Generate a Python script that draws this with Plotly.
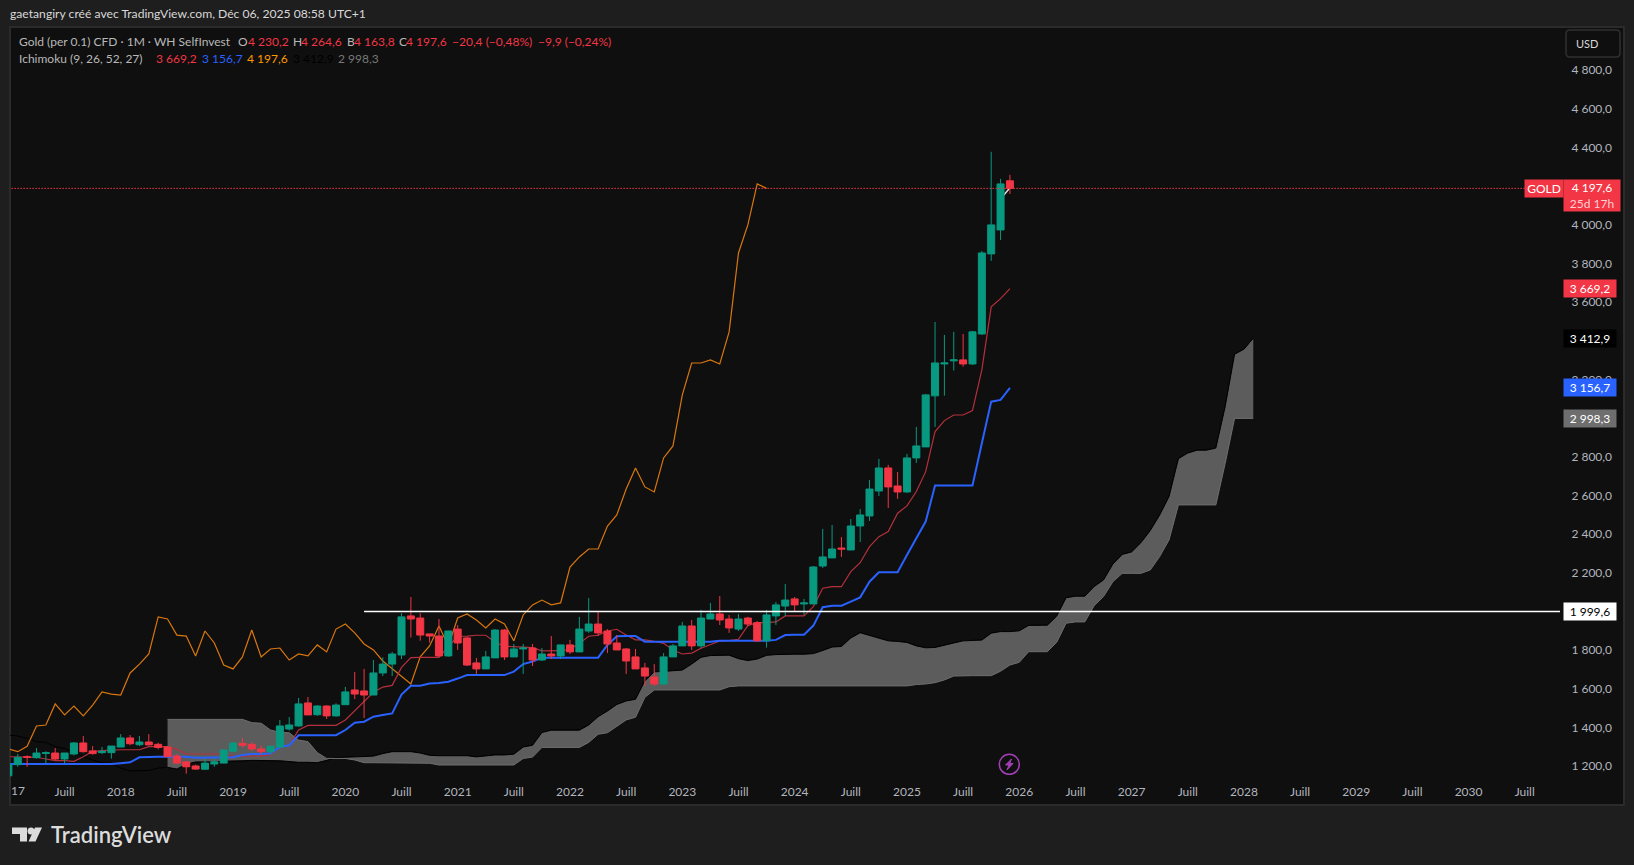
import plotly.graph_objects as go

# ------------------------------------------------------------------ data
years = list(range(2017, 2031))
months = [f"{y}-{m:02d}" for y in years for m in range(1, 13)]

opens = [1150,1208,1249,1244,1266,1268,1237,1263,1320,1279,1270,1270,
         1299,1346,1311,1325,1313,1299,1253,1222,1201,1184,1211,1216,
         1277,1318,1313,1289,1275,1299,1392,1408,1527,1466,1511,1460,
         1518,1594,1589,1568,1682,1728,1775,1977,1966,1884,1873,1770,
         1909,1863,1734,1703,1760,1904,1765,1806,1811,1749,1780,1770,
         1827,1791,1899,1935,1899,1837,1806,1765,1708,1661,1625,1765,
         1822,1925,1822,1961,1987,1961,1909,1966,1942,1848,1977,2028,
         2065,2039,2039,2235,2277,2328,2318,2442,2494,2623,2742,2649,
         2618,2794,2851,3115,3280,3296,3301,3280,3435,3849,3973,4227]
highs = [1220,1263,1256,1294,1277,1294,1268,1325,1356,1304,1299,1304,
         1366,1361,1356,1366,1322,1304,1263,1227,1208,1240,1240,1284,
         1323,1346,1325,1308,1303,1439,1454,1553,1558,1516,1515,1525,
         1610,1687,1703,1749,1763,1791,1991,2075,1991,1884,1961,1901,
         1930,1870,1760,1796,1909,1909,1832,1832,1832,1811,1873,1827,
         1853,1972,2070,1997,1909,1878,1811,1806,1734,1728,1785,1832,
         1946,1956,2008,2044,2080,1982,1987,1972,1951,2008,2049,2142,
         2075,2065,2235,2427,2447,2385,2478,2530,2680,2789,2758,2721,
         2815,2954,3125,3497,3430,3446,3435,3451,3864,4377,4237,4258]
lows = [1146,1197,1197,1239,1215,1232,1215,1256,1270,1260,1263,1239,
        1299,1308,1304,1308,1287,1247,1211,1161,1182,1180,1197,1216,
        1275,1296,1278,1261,1261,1297,1384,1404,1465,1460,1444,1456,
        1518,1547,1449,1568,1666,1666,1754,1865,1849,1839,1766,1766,
        1801,1718,1677,1703,1760,1749,1765,1677,1718,1744,1754,1754,
        1780,1791,1889,1873,1785,1801,1677,1703,1615,1615,1620,1765,
        1822,1801,1810,1961,1930,1889,1899,1925,1844,1813,1930,1977,
        1997,1982,2039,2225,2277,2282,2318,2359,2468,2597,2535,2582,
        2613,2768,2851,2954,3116,3246,3266,3275,3430,3813,3921,4159]
closes = [1209,1246,1246,1268,1270,1237,1268,1320,1275,1265,1277,1304,
          1346,1316,1325,1310,1297,1249,1216,1197,1185,1216,1223,1284,
          1320,1308,1289,1275,1303,1408,1413,1522,1465,1511,1460,1516,
          1584,1573,1568,1682,1728,1780,1972,1961,1878,1873,1770,1899,
          1837,1723,1703,1765,1904,1765,1806,1811,1749,1780,1770,1827,
          1791,1909,1935,1889,1832,1801,1744,1703,1666,1625,1765,1822,
          1925,1822,1966,1987,1956,1915,1961,1935,1848,1982,2034,2059,
          2034,2044,2230,2282,2323,2323,2442,2499,2633,2742,2644,2618,
          2794,2856,3120,3285,3285,3301,3280,3446,3854,3999,4211,4188]

tenkan = [1249,1249,1249,1246,1237,1229,1229,1225,1249,1277,1280,1284,
          1285,1285,1285,1301,1301,1301,1287,1263,1263,1263,1263,1263,
          1251,1251,1253,1253,1258,1299,1308,1387,1411,1411,1411,1411,
          1439,1487,1539,1582,1609,1618,1711,1761,1763,1763,1763,1818,
          1872,1873,1877,1877,1841,1820,1818,1818,1813,1796,1796,1797,
          1804,1835,1872,1877,1899,1908,1878,1853,1853,1846,1835,1801,
          1780,1785,1810,1830,1847,1849,1856,1927,1942,1942,1946,1977,
          1977,1977,2025,2120,2128,2128,2206,2252,2335,2387,2413,2508,
          2546,2620,2723,2930,2987,3016,3016,3039,3249,3575,3618,3669.2]
kijun = [1211,1211,1211,1211,1211,1211,1211,1211,1211,1211,1211,1211,
         1215,1220,1246,1249,1249,1249,1249,1249,1244,1244,1244,1244,
         1246,1258,1263,1263,1266,1299,1308,1360,1360,1360,1360,1360,
         1387,1425,1430,1456,1465,1473,1570,1616,1616,1627,1630,1637,
         1653,1671,1671,1671,1671,1671,1689,1728,1741,1761,1761,1761,
         1761,1761,1761,1761,1827,1872,1873,1873,1844,1844,1844,1844,
         1844,1844,1844,1844,1849,1849,1849,1849,1849,1849,1853,1878,
         1880,1880,1927,2022,2030,2030,2051,2073,2154,2203,2203,2203,
         2292,2378,2465,2651,2651,2651,2651,2651,2870,3085,3094,3156.7]
# drawn from 2017-01, it stops 26 bars before the last candle
lagging = [1289,1275,1303,1408,1413,1522,1465,1511,1460,1516,
           1584,1573,1568,1682,1728,1780,1972,1961,1878,1873,1770,1899,
           1837,1723,1703,1765,1904,1765,1806,1811,1749,1780,1770,1827,
           1791,1909,1935,1889,1832,1801,1744,1703,1666,1625,1765,1822,
           1925,1822,1966,1987,1956,1915,1961,1935,1848,1982,2034,2059,
           2034,2044,2230,2282,2323,2323,2442,2499,2633,2742,2644,2618,
           2794,2856,3120,3285,3285,3301,3280,3446,3854,3999,4211,4188]
# leading span A, 2017-01 to 2028-02
span_a = [1361,1356,1344,1327,1323,1301,1292,1270,1249,1232,1218,1215,
          1190,1175,1175,1178,1190,1194,1185,1210,1222,1222,1222,1226,
          1226,1228,1230,1230,1230,1228,1224,1220,1220,1218,1230,1244,
          1246,1248,1250,1252,1265,1275,1275,1275,1268,1256,1254,1254,
          1254,1254,1248,1254,1258,1258,1262,1299,1308,1374,1386,1386,
          1386,1386,1413,1456,1485,1519,1537,1546,1641,1688,1690,1695,
          1697,1728,1763,1772,1774,1774,1756,1746,1754,1773,1777,1779,
          1779,1779,1782,1798,1816,1819,1863,1890,1875,1863,1848,1845,
          1840,1822,1812,1814,1827,1837,1848,1849,1852,1888,1896,1896,
          1900,1928,1929,1929,1976,2071,2079,2079,2129,2163,2245,2295,
          2308,2356,2419,2499,2594,2790,2819,2834,2834,2845,3060,3330,
          3356,3412.9]
# leading span B, 2018-06 to 2028-02
span_b = [1442,1442,1442,1442,1442,1442,1442,1442,1442,
          1425,1422,1387,1375,1373,1335,1327,1270,1240,1240,1240,1232,
          1218,1218,1218,1215,1215,1215,1215,1215,1206,1206,1206,1206,
          1206,1206,1206,1206,1206,1240,1247,1297,1297,1297,1297,1297,
          1323,1365,1373,1404,1439,1453,1556,1594,1594,1594,1594,1594,
          1594,1594,1594,1611,1615,1615,1615,1615,1615,1615,1615,1615,
          1615,1615,1615,1615,1615,1615,1615,1615,1615,1615,1615,1622,
          1625,1632,1646,1666,1668,1668,1668,1668,1691,1723,1737,1792,
          1792,1792,1841,1939,1946,1946,2030,2077,2154,2197,2197,2197,
          2215,2284,2370,2551,2551,2551,2551,2551,2766,2998.3,2998.3,2998.3]

ray_months = ["2020-03", "2030-12"]
ray_values = [1999.6, 1999.6]
price_months = ["2017-01", "2030-12"]
price_values = [4188, 4188]
short_months = ["2025-11", "2025-12"]
short_values = [4133, 4191]

price_ticks = [4800,4600,4400,4200,4000,3800,3600,3400,3200,3000,2800,2600,2400,2200,2000,1800,1600,1400,1200]
price_labels = [f"{p//1000} {p%1000:03d},0" for p in price_ticks]
time_ticks = [f"{y}-{m}" for y in years for m in ("01", "07")][1:]
time_labels = [("Juill" if t.endswith("07") else t[:4]) for t in time_ticks]

# ------------------------------------------------------------------ style
W, H = 1634, 865
L, R, T, B = 10, 1560, 27, 777
BG, PANEL, BORDER = "#1e1e1e", "#0f0f0f", "#2b2b2b"
UP, DOWN = "#089981", "#F23645"
FONT = "Lato"
AXIS_TXT = "#b2b5be"

def px(x): return (x - L) / (R - L)
def py(y): return (B - y) / (B - T)

XR = [0.17, 165.77]
YR = [1144, 5022.4]

fig = go.Figure()

cx = months[17:17 + len(span_b)]
fig.add_trace(go.Scatter(x=months[:len(span_a)], y=span_a, mode="lines", line=dict(color="#000000", width=1), hoverinfo="skip"))
fig.add_trace(go.Scatter(x=cx, y=span_a[17:], mode="lines", line=dict(color="#000000", width=1), hoverinfo="skip"))
fig.add_trace(go.Scatter(x=cx, y=span_b, mode="lines", line=dict(color="#6e6e6e", width=1),
                         fill="tonexty", fillcolor="#5c5c5c", hoverinfo="skip"))
fig.add_trace(go.Scatter(x=months[:len(lagging)], y=lagging, mode="lines", line=dict(color="#d9770f", width=1.2), hoverinfo="skip"))
fig.add_trace(go.Scatter(x=months[:len(tenkan)], y=tenkan, mode="lines", line=dict(color="#b5303c", width=1.2), hoverinfo="skip"))
fig.add_trace(go.Scatter(x=months[:len(kijun)], y=kijun, mode="lines", line=dict(color="#2962FF", width=2), hoverinfo="skip"))
fig.add_trace(go.Scatter(x=short_months, y=short_values, mode="lines", line=dict(color="#e0e0e0", width=1.5), hoverinfo="skip"))

fig.add_trace(go.Candlestick(x=months[:len(closes)], open=opens, high=highs, low=lows, close=closes,
                             xaxis="x2", yaxis="y2", whiskerwidth=0, hoverinfo="skip",
                             increasing=dict(line=dict(color=UP, width=1), fillcolor=UP),
                             decreasing=dict(line=dict(color=DOWN, width=1), fillcolor=DOWN)))
fig.add_trace(go.Scatter(x=ray_months, y=ray_values, xaxis="x2", yaxis="y2", mode="lines",
                         line=dict(color="#ffffff", width=1.5), hoverinfo="skip"))
fig.add_trace(go.Scatter(x=price_months, y=price_values, xaxis="x2", yaxis="y2", mode="lines",
                         line=dict(color=DOWN, width=1, dash="1.5px,1.5px"), hoverinfo="skip"))

shapes = [
    dict(type="rect", xref="paper", yref="paper", layer="below", x0=px(10), x1=px(1624), y0=py(805), y1=py(27),
         fillcolor=PANEL, line=dict(color=BORDER, width=2)),
    dict(type="path", xref="paper", yref="paper", layer="above",
         path=" ".join(["M", f"{px(1570)},{py(30)}", "L", f"{px(1616)},{py(30)}",
                        "Q", f"{px(1620)},{py(30)}", f"{px(1620)},{py(34)}", "L", f"{px(1620)},{py(53)}",
                        "Q", f"{px(1620)},{py(57)}", f"{px(1616)},{py(57)}", "L", f"{px(1570)},{py(57)}",
                        "Q", f"{px(1566)},{py(57)}", f"{px(1566)},{py(53)}", "L", f"{px(1566)},{py(34)}",
                        "Q", f"{px(1566)},{py(30)}", f"{px(1570)},{py(30)}", "Z"]),
         line=dict(color="#303030", width=1.5)),
    # TradingView mark
    dict(type="path", xref="paper", yref="paper", layer="above", fillcolor="#dcdcdc", line=dict(width=0),
         path=f"M {px(12)},{py(827.5)} L {px(27)},{py(827.5)} L {px(27)},{py(841.5)} L {px(20)},{py(841.5)} L {px(20)},{py(834)} L {px(12)},{py(834)} Z"),
    dict(type="circle", xref="paper", yref="paper", layer="above", fillcolor="#dcdcdc", line=dict(width=0),
         x0=px(27.5), x1=px(34.5), y0=py(834.5), y1=py(827.5)),
    dict(type="path", xref="paper", yref="paper", layer="above", fillcolor="#dcdcdc", line=dict(width=0),
         path=f"M {px(35)},{py(827.5)} L {px(42)},{py(827.5)} L {px(35.5)},{py(841.5)} L {px(28.5)},{py(841.5)} Z"),
    # purple lightning button
    dict(type="circle", xref="paper", yref="paper", layer="above", line=dict(color="#a23fb5", width=1.5),
         x0=px(999.3), x1=px(1019.3), y0=py(774.3), y1=py(754.3)),
    dict(type="path", xref="paper", yref="paper", layer="above", fillcolor="#a23fb5", line=dict(color="#a23fb5", width=1),
         path=f"M {px(1011.5)},{py(759)} L {px(1005.5)},{py(765)} L {px(1009)},{py(765)} L {px(1007)},{py(770)} L {px(1013)},{py(763.5)} L {px(1009.7)},{py(763.5)} Z"),
]

ann = []
def txt(x, y, s, color, size=12, anchor="left", weight=None, fam=FONT):
    ann.append(dict(text=s, x=px(x), y=py(y), xref="paper", yref="paper", xanchor=anchor, yanchor="middle",
                    showarrow=False, align="left", font=dict(family=fam, size=size, color=color, weight=weight)))

txt(8, 14, "gaetangiry créé avec TradingView.com, Déc 06, 2025 08:58 UTC+1", "#d8d8d8", 12.15)
legend1 = [(17, "Gold (per 0.1) CFD · 1M · WH SelfInvest", "#b8b8b8"),
           (236.5, "O", "#b8b8b8"), (246, "4 230,2", DOWN), (291, "H", "#b8b8b8"), (299, "4 264,6", DOWN),
           (345, "B", "#b8b8b8"), (352, "4 163,8", DOWN), (397, "C", "#b8b8b8"), (404, "4 197,6", DOWN),
           (450, "−20,4 (−0,48%)", DOWN), (536, "−9,9 (−0,24%)", DOWN)]
legend2 = [(17, "Ichimoku (9, 26, 52, 27)", "#b8b8b8"), (154, "3 669,2", DOWN), (200, "3 156,7", "#2962FF"),
           (245, "4 197,6", "#FF9800"), (291, "3 412,9", "#000000"), (336, "2 998,3", "#787878")]
for x, s, c in legend1: txt(x, 41.5, s, c, 12)
for x, s, c in legend2: txt(x, 59, s, c, 12)
txt(1574, 43.5, "USD", "#d8d8d8", 11)
txt(9, 790, "17", AXIS_TXT, 12)
txt(48.5, 834.5, "TradingView", "#dcdcdc", 22, weight=600)

def tag(x, w, val, s, bg, fg, h=17, yshift=0):
    ann.append(dict(text=s, x=px(x), y=val, xref="paper", yref="y", xanchor="left", yanchor="middle",
                    yshift=yshift, width=w, height=h, showarrow=False, align="center", valign="middle",
                    bgcolor=bg, borderpad=0, font=dict(family=FONT, size=12, color=fg)))

tag(1524, 38, price_values[0], "GOLD", DOWN, "#ffffff")
tag(1563, 56, price_values[0], '4 197,6<br><span style="color:#ffd0d4">25d 17h</span>', DOWN, "#ffffff", h=31, yshift=-7)
tag(1563, 52, tenkan[-1], "3 669,2", DOWN, "#ffffff")
tag(1563, 52, span_a[-1], "3 412,9", "#000000", "#ffffff")
tag(1563, 52, kijun[-1], "3 156,7", "#2962FF", "#ffffff")
tag(1563, 52, span_b[-1], "2 998,3", "#6e6e6e", "#ffffff")
tag(1563, 52, ray_values[0], "1 999,6", "#ffffff", "#000000")

fig.update_layout(
    width=W, height=H, autosize=False, showlegend=False,
    margin=dict(l=L, r=W - R, t=T, b=H - B, pad=0),
    paper_bgcolor=BG, plot_bgcolor="rgba(0,0,0,0)",
    font=dict(family=FONT, size=12, color=AXIS_TXT),
    boxgap=0.25, boxgroupgap=0, boxmode="overlay",
    shapes=shapes, annotations=ann,
    xaxis=dict(type="category", categoryorder="array", categoryarray=months, range=XR,
               tickmode="array", tickvals=time_ticks, ticktext=time_labels, tickangle=0,
               showgrid=False, zeroline=False, showline=False, ticks="outside", ticklen=4,
               tickcolor="rgba(0,0,0,0)", tickfont=dict(family=FONT, size=12, color=AXIS_TXT),
               rangeslider=dict(visible=False), fixedrange=True),
    yaxis=dict(range=YR, side="right", tickmode="array", tickvals=price_ticks, ticktext=price_labels,
               showgrid=False, zeroline=False, showline=False, ticks="outside", ticklen=8,
               tickcolor="rgba(0,0,0,0)", tickfont=dict(family=FONT, size=12, color=AXIS_TXT), fixedrange=True),
    xaxis2=dict(type="category", categoryorder="array", categoryarray=months, range=XR, overlaying="x",
                visible=False, rangeslider=dict(visible=False), fixedrange=True),
    yaxis2=dict(range=YR, overlaying="y", visible=False, fixedrange=True),
)

fig.write_html("out.html", config=dict(displayModeBar=False),
               post_script="document.body.style.margin='0';document.body.style.background='#1e1e1e';")
